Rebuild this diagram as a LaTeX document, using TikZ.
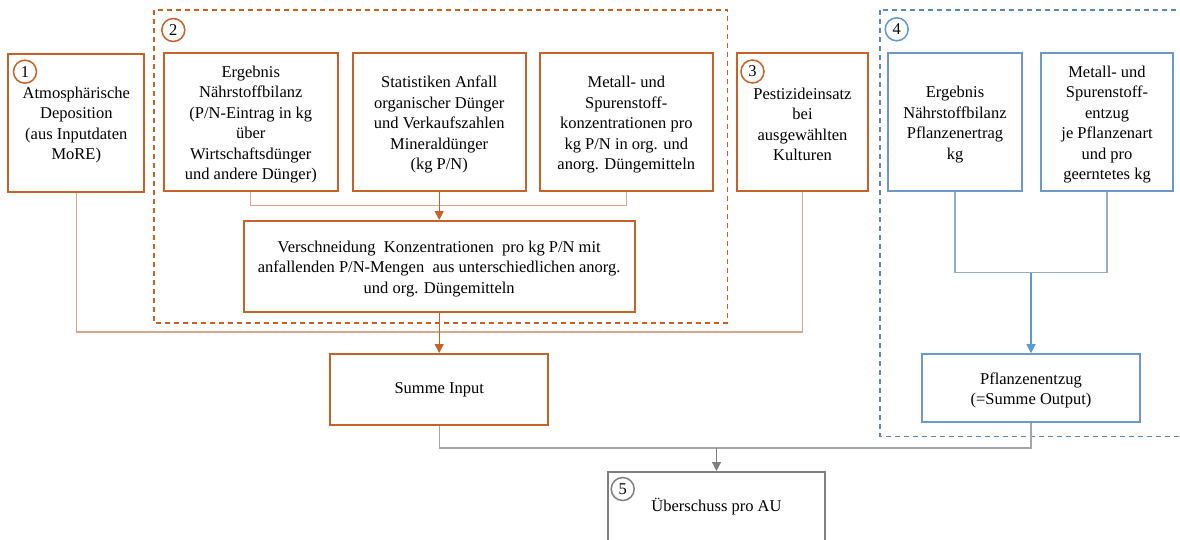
\documentclass[tikz,border=0pt]{standalone}
\usepackage{fontspec}
\setmainfont{Liberation Serif}
\usetikzlibrary{arrows.meta}
\definecolor{org}{RGB}{196,98,40}
\definecolor{orgdash}{RGB}{200,95,35}
\definecolor{tanline}{RGB}{212,168,140}
\definecolor{blu}{RGB}{108,153,200}
\definecolor{bludash}{RGB}{95,135,180}
\definecolor{bluline}{RGB}{150,172,198}
\definecolor{bluarrow}{RGB}{91,155,213}
\definecolor{gry}{RGB}{128,128,128}
\definecolor{gryline}{RGB}{165,165,165}
\newcommand\tsp{\rule{0pt}{16pt}}
\begin{document}
\begin{tikzpicture}[x=1pt,y=-1pt,
  every node/.style={font=\fontsize{16.5}{20.5}\selectfont},
  obox/.style={draw=org, line width=2pt, align=center, inner sep=0pt, minimum height=138pt},
  bbox/.style={draw=blu, line width=2pt, align=center, inner sep=0pt, minimum height=138pt},
  circ/.style={circle, line width=1.5pt, inner sep=0pt, minimum size=23pt},
  grp/.style={line width=1.8pt, dash pattern=on 5pt off 4pt},
  conn/.style={line width=1.2pt},
  tip/.style={-{Triangle[length=9pt,width=9pt]}}
]
\useasboundingbox (0,0) rectangle (1180,539);
\clip (0,0) rectangle (1180,539);

% group frames
\draw[grp, draw=orgdash] (154.3,10) rectangle (727.5,323);
\draw[grp, draw=bludash] (880,10) rectangle (1200,436.5);

% top boxes
\node[obox, minimum width=136pt] (B1) at (76.3,122.8) {\tsp Atmosphärische\\Deposition\\(aus Inputdaten\\MoRE)};
\node[obox, minimum width=173.7pt] (E1) at (250.8,122.3) {\tsp Ergebnis\\Nährstoffbilanz\\(P/N-Eintrag in kg\\über\\Wirtschaftsdünger\\und andere Dünger)};
\node[obox, minimum width=173pt] (S) at (439.2,122.3) {\tsp Statistiken Anfall\\organischer Dünger\\und Verkaufszahlen\\Mineraldünger\\(kg P/N)};
\node[obox, minimum width=172.7pt] (M) at (626.3,122.3) {\tsp Metall- und\\Spurenstoff-\\konzentrationen pro\\kg P/N in org. und\\anorg. Düngemitteln};
\node[obox, minimum width=131.6pt] (B3) at (802.5,122.3) {\tsp Pestizideinsatz\\bei\\ausgewählten\\Kulturen};
\node[bbox, minimum width=133.4pt] (E2) at (955,122.3) {\tsp Ergebnis\\Nährstoffbilanz\\Pflanzenertrag\\kg};
\node[bbox, minimum width=132.6pt] (M2) at (1107,122.3) {\tsp Metall- und\\Spurenstoff-\\entzug\\je Pflanzenart\\und pro\\geerntetes kg};

% middle / lower boxes
\node[obox, minimum width=391pt, minimum height=91pt] (V) at (439.2,266.5) {\tsp Verschneidung\ \ Konzentrationen\ \ pro kg P/N mit\\anfallenden P/N-Mengen\ \ aus unterschiedlichen anorg.\\und org. Düngemitteln};
\node[obox, minimum width=218pt, minimum height=71pt] (SI) at (439.2,389.5) {Summe Input};
\node[bbox, minimum width=218pt, minimum height=68pt] (PE) at (1031,388.2) {\tsp Pflanzenentzug\\(=Summe Output)};
\node[draw=gry, line width=2pt, inner sep=0pt, minimum width=217pt, minimum height=70pt] (B5) at (716.5,507) {Überschuss pro AU};

% number circles
\node[circ, draw=org] (c1) at (25,71.7) {1};
\node[circ, draw=org] (c2) at (173.3,30) {2};
\node[circ, draw=org] (c3) at (752.5,71.5) {3};
\node[circ, draw=bluarrow] (c4) at (896.7,29.3) {4};
\node[circ, draw=gry] (c5) at (622.7,489) {5};

% connectors group 2
\draw[conn, draw=tanline] (E1.south) -- (E1.south |- 0,205.7) -| (M.south);
\draw[conn, draw=org, fill=org, tip] (S.south) -- (V.north);
% inputs 1 and 3
\draw[conn, draw=tanline] (B1.south) -- (B1.south |- 0,332) -| (B3.south);
\draw[conn, draw=org, fill=org, tip] (V.south) -- (SI.north);
% group 4
\draw[conn, draw=bluline] (E2.south) -- (E2.south |- 0,272.7) -| (M2.south);
\coordinate (j4) at (PE.north |- 0,272.7);
\draw[conn, draw=bluarrow, fill=bluarrow, tip] (j4) -- (PE.north);
% output
\draw[conn, draw=gryline] (SI.south) -- (SI.south |- 0,448) -| (PE.south);
\coordinate (j5) at (B5.north |- 0,448);
\draw[conn, draw=gry, fill=gry, tip] (j5) -- (B5.north);
\end{tikzpicture}
\end{document}
